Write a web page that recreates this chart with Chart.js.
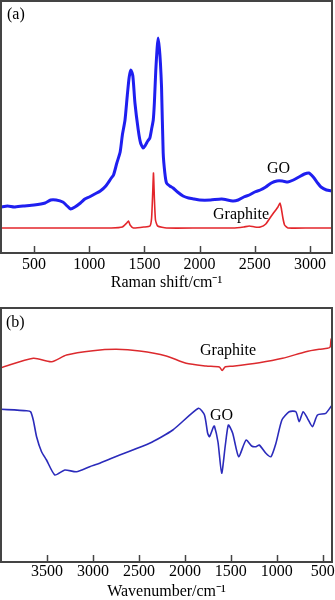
<!DOCTYPE html>
<html>
<head>
<meta charset="utf-8">
<script src="https://cdn.jsdelivr.net/npm/chart.js@4.4.1/dist/chart.umd.min.js"></script>
<style>
  html, body { margin: 0; padding: 0; background: #fff; }
  #wrap { position: relative; width: 335px; height: 600px; overflow: hidden; }
  .pane { position: absolute; left: 0; width: 335px; height: 300px; }
  .lbl { position: absolute; font-family: "Liberation Serif", "Times New Roman", serif; font-size: 16px; line-height: 16px; color: #000; white-space: nowrap; }
</style>
</head>
<body>
<div id="wrap">
  <div class="pane" style="top:0"><canvas id="c1" width="335" height="300"></canvas></div>
  <div class="pane" style="top:300px"><canvas id="c2" width="335" height="300"></canvas></div>
  <div class="lbl" style="left:7px;top:6px">(a)</div>
  <div class="lbl" style="left:267px;top:160px">GO</div>
  <div class="lbl" style="left:213px;top:206px">Graphite</div>
  <div class="lbl" style="left:6px;top:314px">(b)</div>
  <div class="lbl" style="left:200px;top:342px">Graphite</div>
  <div class="lbl" style="left:210px;top:407px">GO</div>
</div>
<script>
// ---------- (a) Raman ----------
const ramanTicks = [500, 1000, 1500, 2000, 2500, 3000];
const ramanGoX = [200,260,320,400,500,600,650,700,760,800,830,870,920,960,1000,1050,1100,1150,1200,1220,1250,1280,1300,1324,1345,1362,1378,1395,1414,1444,1465,1489,1510,1530,1549,1565,1580,1590,1603,1615,1624,1635,1645,1655,1670,1685,1700,1730,1760,1800,1850,1900,1950,2000,2100,2200,2300,2350,2400,2450,2500,2550,2600,2650,2700,2750,2800,2850,2900,2950,2990,3030,3070,3100,3150,3200];
const ramanGoY = [46,47,46,47,48,50,53,53,51,47,44,46,50,54,56,59,62,67,75,78,90,101,118,133,158,176,183,177,150,123,110,105,108,112,115,124,133,150,183,205,215,205,190,166,100,80,70,67,65,61,57,55,54,53,53,54,52,53,56,58,61,63,66,70,72,72,71,73,76,79,80,76,70,66,63,62];
const ramanGrX = [200,400,600,800,1000,1200,1300,1340,1355,1370,1400,1500,1550,1565,1575,1582,1590,1600,1620,1700,2000,2300,2400,2450,2500,2550,2600,2650,2690,2710,2728,2740,2755,2770,2800,3000,3200];
const ramanGrY = [25,25,25,25,25,25,26,30,32,28,25,26,27,35,60,80,55,33,27,25,25,25,26,27,26,26,29,37,43,46,50,45,35,28,25,25,25];

// ---------- (b) FTIR ----------
const ftirTicks = [3500, 3000, 2500, 2000, 1500, 1000, 500];
const ftirGoX = [4000,3722,3678,3649,3613,3559,3505,3414,3306,3179,3035,2926,2709,2384,2131,1852,1787,1752,1733,1690,1679,1640,1600,1560,1527,1480,1415,1335,1274,1227,1191,1119,1064,1010,945,866,793,757,714,667,613,558,468,407];
const ftirGoY = [152.7,151.3,150.3,142,125.3,110.3,102,87,92,90.3,95.3,98.7,107,118.7,132,153.7,147,128.7,125.3,135,136,120,88.7,117,137,128.7,105.3,122,116,115.3,117,108.7,105.3,118.7,142,150.3,150.3,140.3,150.3,143.7,135.3,147,148.7,156];
const ftirGrX = [4000,3649,3450,3287,3000,2745,2492,2203,1986,1769,1625,1595,1560,1480,1191,938,685,540,450,420,410,400];
const ftirGrY = [194.3,203.7,200.3,207,211.3,212.7,211,206,198.7,196,195,191.5,195.3,195.8,199.3,203.7,210.3,212.7,213.7,215,223,216];

const FONT = { family: "'Liberation Serif', 'Times New Roman', serif", size: 16 };

const framePlugin = {
  id: 'frame',
  afterDraw(chart) {
    const { ctx, chartArea: a, scales } = chart;
    ctx.save();
    ctx.strokeStyle = '#444';
    ctx.lineWidth = 2;
    ctx.strokeRect(a.left, a.top, a.right - a.left, a.bottom - a.top);
    ctx.lineWidth = 1.5;
    const xs = scales.x;
    xs.ticks.forEach((t, i) => {
      const px = Math.round(xs.getPixelForTick(i)) + 0.5;
      ctx.beginPath();
      ctx.moveTo(px, a.bottom);
      ctx.lineTo(px, a.bottom - 7);
      ctx.stroke();
    });
    ctx.restore();
  }
};

function pts(xs, ys) { return xs.map((x, i) => ({ x: x, y: ys[i] })); }

function makeChart(id, cfg) {
  return new Chart(document.getElementById(id), {
    type: 'line',
    data: { datasets: cfg.datasets },
    options: {
      responsive: false,
      animation: false,
      events: [],
      layout: { padding: cfg.padding },
      plugins: { legend: { display: false }, tooltip: { enabled: false } },
      elements: { point: { radius: 0 } },
      scales: {
        x: {
          type: 'linear',
          min: cfg.xmin, max: cfg.xmax, reverse: !!cfg.reverse,
          grid: { display: false, drawTicks: false },
          border: { display: false },
          afterBuildTicks: s => { s.ticks = cfg.ticks.map(v => ({ value: v })); },
          afterFit: s => { s.height = cfg.axisH; },
          ticks: { autoSkip: false, maxRotation: 0, padding: cfg.tickPad, color: '#000', font: FONT, callback: v => String(v) },
          title: { display: true, text: cfg.title, color: '#000', font: Object.assign({ lineHeight: 1 }, FONT), padding: { top: 0, bottom: cfg.titlePad } }
        },
        y: { display: false, min: cfg.ymin, max: cfg.ymax }
      }
    },
    plugins: [framePlugin]
  });
}

makeChart('c1', {
  padding: { top: 1, left: 1, right: 3, bottom: 0 },
  xmin: 200, xmax: 3200, ticks: ramanTicks, axisH: 47, tickPad: 2, titlePad: 9,
  title: 'Raman shift/cm\u207B\u00B9', ymin: 0, ymax: 252,
  datasets: [
    { data: pts(ramanGoX, ramanGoY), borderColor: '#1f1ff0', borderWidth: 3, tension: 0.2, fill: false },
    { data: pts(ramanGrX, ramanGrY), borderColor: '#e3262b', borderWidth: 1.6, tension: 0.15, fill: false }
  ]
});

makeChart('c2', {
  padding: { top: 8, left: 1, right: 3, bottom: 0 },
  xmin: 400, xmax: 4000, reverse: true, ticks: ftirTicks, axisH: 38, tickPad: 0, titlePad: 0,
  title: 'Wavenumber/cm\u207B\u00B9', ymin: 0, ymax: 254,
  datasets: [
    { data: pts(ftirGrX, ftirGrY), borderColor: '#dc2a2e', borderWidth: 1.5, tension: 0.25, fill: false },
    { data: pts(ftirGoX, ftirGoY), borderColor: '#2b2bbb', borderWidth: 1.6, tension: 0.2, fill: false }
  ]
});
</script>
</body>
</html>
